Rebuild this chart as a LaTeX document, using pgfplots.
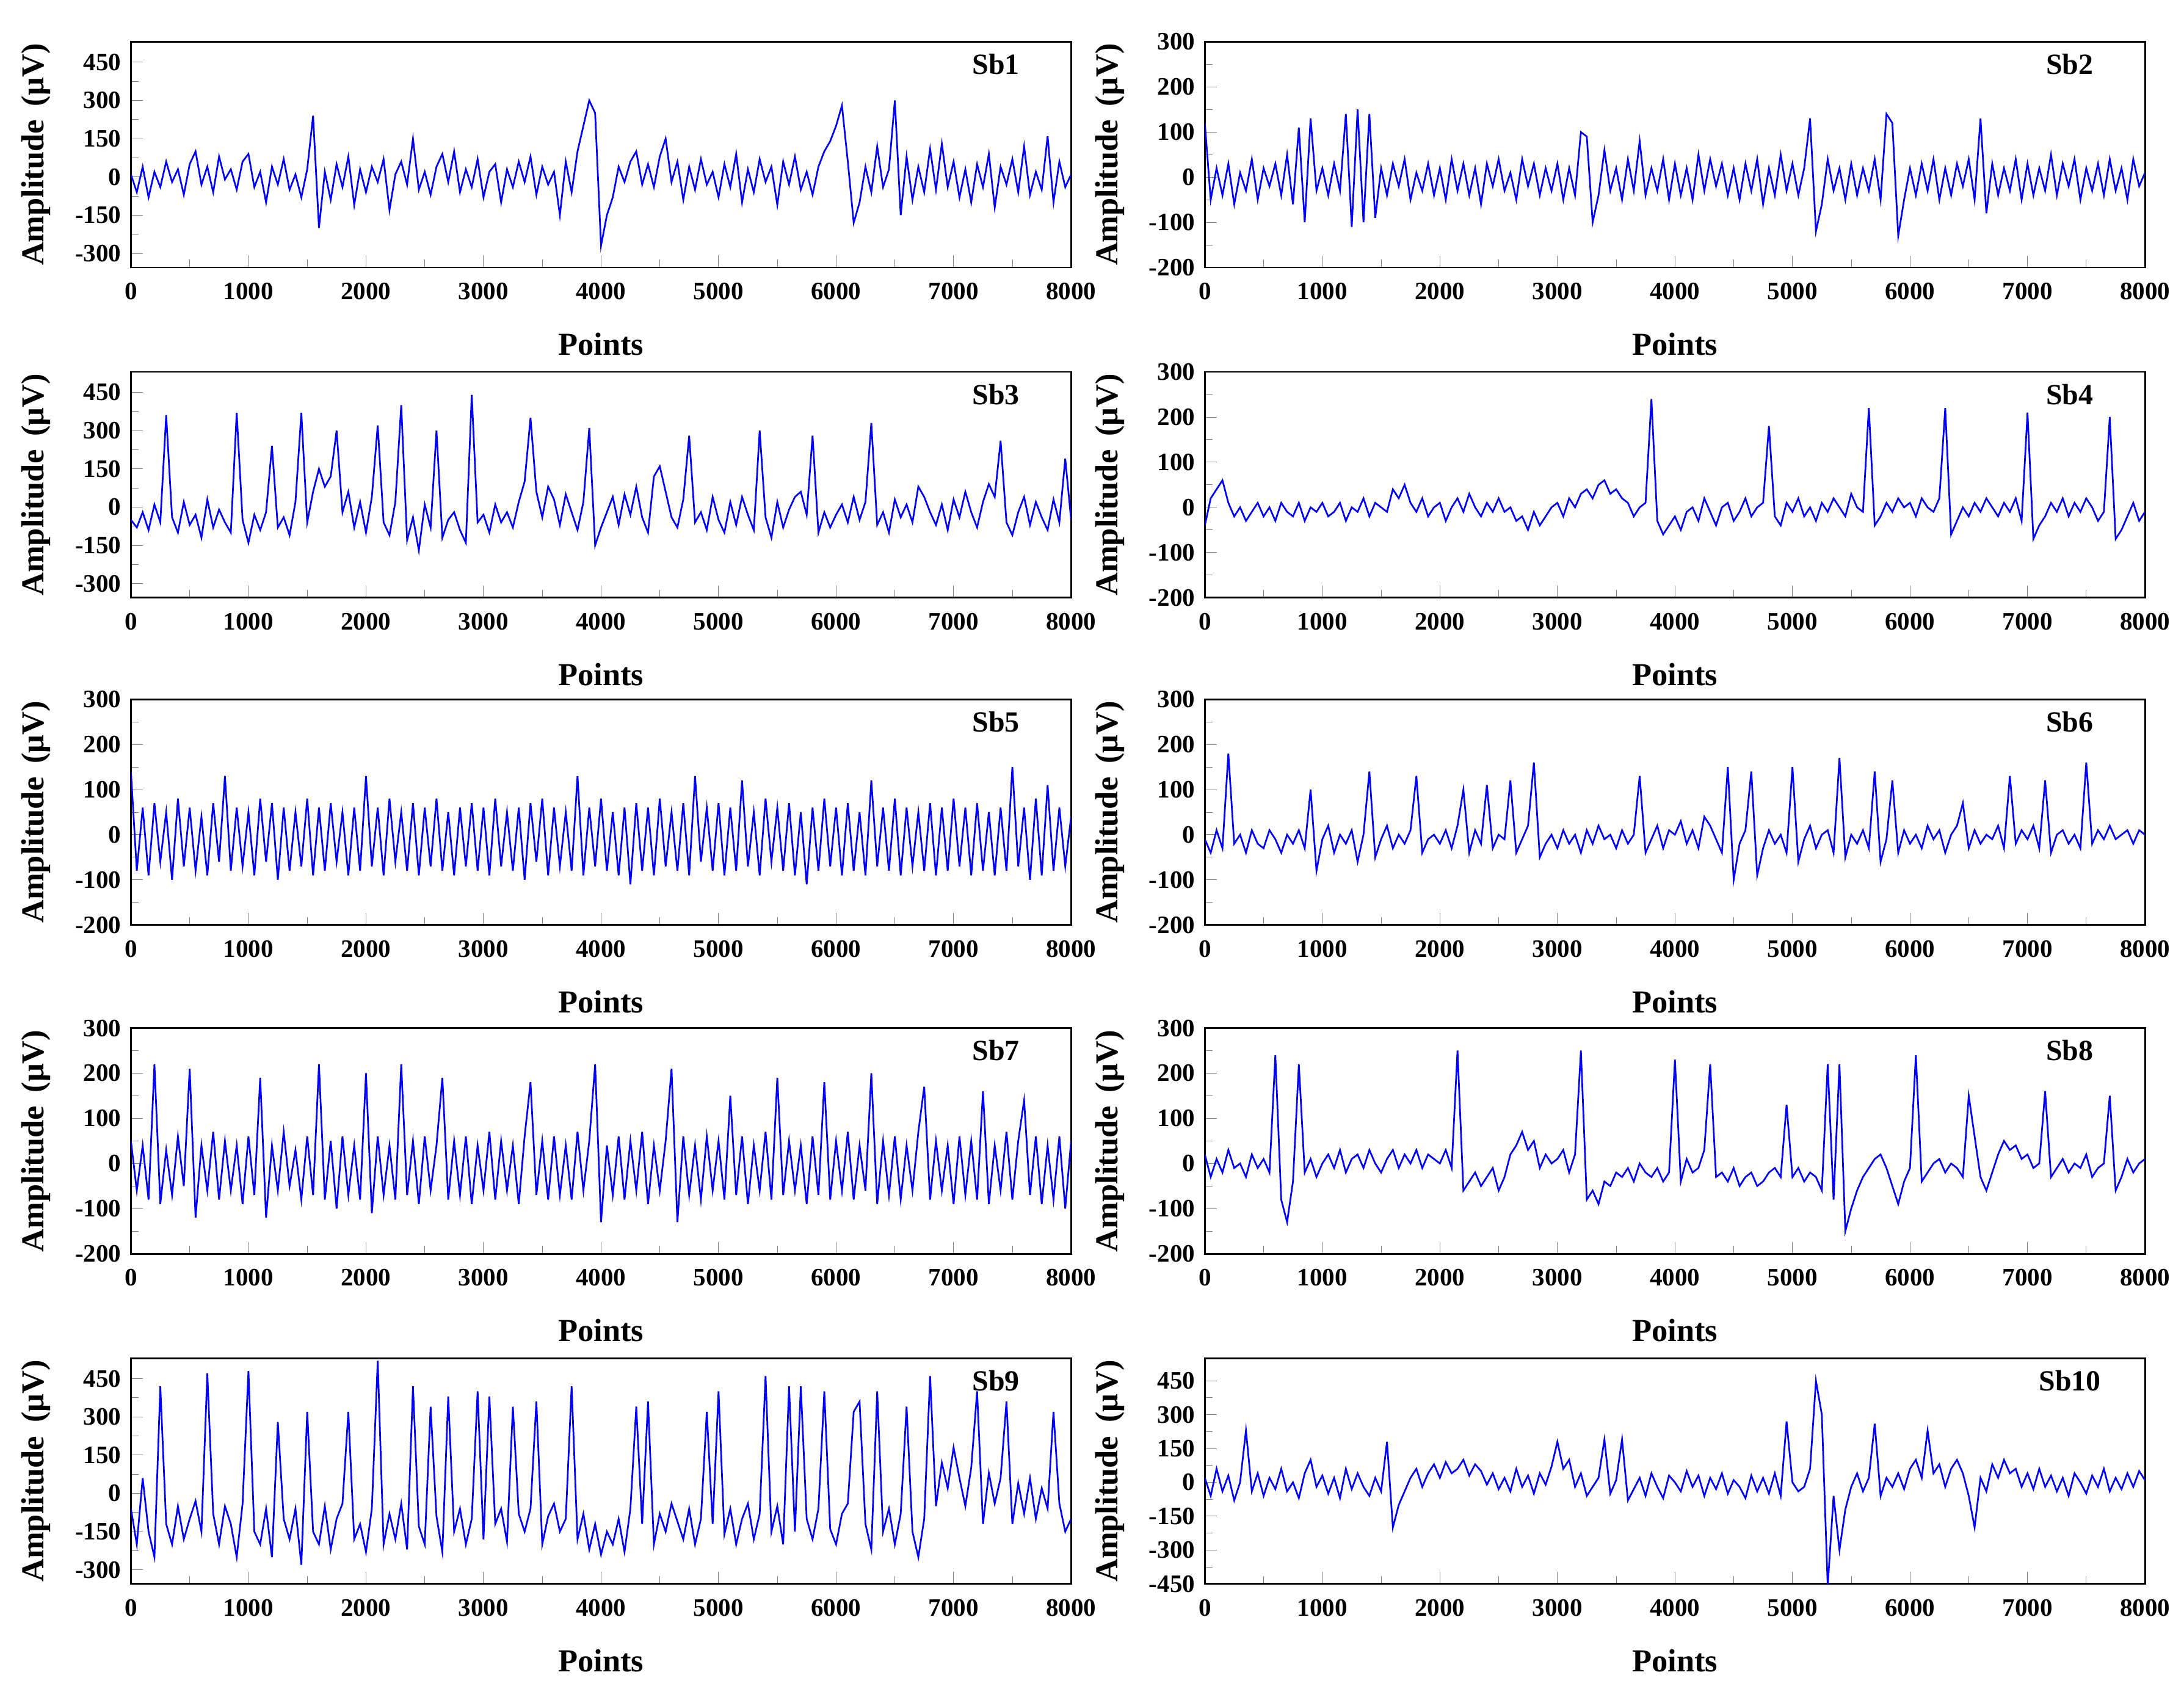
\documentclass[border=0pt]{standalone}
\usepackage{pgfplots}
\pgfplotsset{compat=1.18}
\usepackage{fontspec}
\setmainfont{Liberation Serif}
\pgfplotsset{eeg/.style={width=337.5pt,height=81pt,scale only axis,anchor=north west,
 xmin=0,xmax=8000,xtick={0,1000,...,8000},minor x tick num=1,no markers,
 tick align=inside,xtick pos=bottom,ytick pos=left,minor y tick num=1,
 /pgf/number format/assume math mode=true,
 ticklabel style={font=\fontsize{9}{10}\selectfont\bfseries},
 xticklabel style={yshift=-2pt,/pgf/number format/1000 sep={}},
 scaled ticks=false,
 label style={font=\fontsize{11.5}{12}\selectfont\bfseries},
 xlabel={Points},ylabel={Amplitude \,(μV)},
 ylabel style={yshift=2pt},xlabel style={yshift=-5pt},
 axis line style={line width=0.6pt},
 every axis plot/.append style={blue,line width=0.6pt}},
 yA/.style={ymin=-355,ymax=530,ytick={-300,-150,...,450}},
 yB/.style={ymin=-200,ymax=300,ytick={-200,-100,...,300}},
 yC/.style={ymin=-450,ymax=550,ytick={-450,-300,...,450}}}
\newcommand{\sbtitle}[1]{\node[font=\fontsize{10.5}{11}\selectfont\bfseries] at (rel axis cs:0.92,0.9) {#1};}
\begin{document}
\begin{tikzpicture}
\useasboundingbox (0,0) rectangle (784pt,-609pt);
\begin{axis}[eeg,yA,at={(47pt,-15pt)}]
\addplot table[x expr=\coordindex*50,y index=0,header=false] {
10
-60
40
-80
20
-40
60
-20
30
-70
50
100
-30
40
-60
80
-10
30
-50
60
90
-40
20
-100
40
-30
70
-50
10
-80
30
240
-200
20
-90
50
-40
80
-110
30
-60
40
-20
70
-130
10
60
-30
150
-50
20
-70
40
90
-20
100
-60
30
-40
70
-80
20
50
-100
30
-40
60
-20
80
-70
40
-30
20
-150
60
-60
100
200
300
250
-270
-150
-80
40
-20
60
100
-30
50
-40
80
150
-20
60
-90
40
-50
70
-30
20
-80
50
-40
90
-100
30
-60
70
-20
40
-110
60
-30
80
-50
20
-70
40
100
140
200
280
60
-180
-100
40
-60
120
-40
30
300
-150
80
-90
40
-60
110
-50
130
-40
60
-80
30
-100
50
-40
90
-120
40
-30
70
-60
120
-70
20
-50
160
-100
60
-40
10
};
\sbtitle{Sb1}
\end{axis}
\begin{axis}[eeg,yB,at={(432.5pt,-15pt)}]
\addplot table[x expr=\coordindex*50,y index=0,header=false] {
120
-50
20
-40
30
-60
10
-30
40
-50
20
-20
30
-40
50
-60
110
-100
130
-30
20
-40
30
-30
140
-110
150
-100
140
-90
20
-40
30
-20
40
-50
10
-30
30
-40
20
-50
40
-30
30
-40
20
-60
30
-20
40
-30
10
-50
40
-20
30
-40
20
-30
30
-50
20
-40
100
90
-100
-40
60
-30
20
-50
40
-30
80
-40
20
-30
40
-50
30
-40
20
-50
50
-30
40
-20
30
-40
20
-50
30
-30
40
-60
20
-40
50
-30
30
-40
20
130
-120
-60
40
-30
20
-50
30
-40
20
-30
40
-50
140
120
-130
-50
20
-40
30
-30
40
-50
20
-40
30
-20
40
-50
130
-80
30
-40
20
-30
40
-50
30
-40
20
-30
50
-40
30
-20
40
-50
20
-30
30
-40
40
-30
20
-50
40
-20
10
};
\sbtitle{Sb2}
\end{axis}
\begin{axis}[eeg,yA,at={(47pt,-133.5pt)}]
\addplot table[x expr=\coordindex*50,y index=0,header=false] {
-50
-80
-20
-90
10
-60
360
-40
-100
20
-70
-30
-120
30
-80
-10
-60
-100
370
-50
-140
-30
-90
-20
240
-80
-40
-110
20
370
-60
60
150
80
120
300
-20
60
-80
20
-100
40
320
-60
-110
20
400
-130
-40
-170
10
-80
300
-120
-50
-20
-90
-140
440
-60
-30
-100
10
-60
-20
-80
20
100
350
60
-40
80
30
-70
50
-20
-90
20
310
-150
-80
-20
40
-70
50
-30
80
-40
-100
120
160
60
-40
-80
30
280
-60
-20
-90
40
-50
-100
20
-70
40
-30
-90
300
-40
-120
20
-80
-10
40
60
-30
280
-100
-20
-80
-30
10
-60
40
-50
20
330
-70
-20
-100
30
-40
10
-60
80
40
-20
-70
10
-90
30
-40
60
-20
-80
20
90
40
260
-60
-110
-20
40
-70
20
-40
-90
30
-60
190
-50
};
\sbtitle{Sb3}
\end{axis}
\begin{axis}[eeg,yB,at={(432.5pt,-133.5pt)}]
\addplot table[x expr=\coordindex*50,y index=0,header=false] {
-40
20
40
60
10
-20
0
-30
-10
10
-20
0
-30
10
-10
-20
10
-30
0
-10
10
-20
-10
10
-30
0
-10
20
-20
10
0
-10
40
20
50
10
-10
20
-20
0
10
-30
0
20
-10
30
0
-20
10
-10
20
-10
0
-30
-20
-50
-10
-40
-20
0
10
-20
20
0
30
40
20
50
60
30
40
20
10
-20
0
10
240
-30
-60
-40
-20
-50
-10
0
-30
20
-10
-40
0
10
-30
-10
20
-20
0
10
180
-20
-40
10
-10
20
-20
0
-30
10
-10
20
0
-20
30
0
-10
220
-40
-20
10
-10
20
0
10
-20
20
0
-10
20
220
-60
-30
0
-20
10
-10
20
0
-20
10
-10
20
-30
210
-70
-40
-20
10
-10
20
-20
10
-10
20
0
-30
-10
200
-70
-50
-20
10
-30
-10
};
\sbtitle{Sb4}
\end{axis}
\begin{axis}[eeg,yB,at={(47pt,-251pt)}]
\addplot table[x expr=\coordindex*50,y index=0,header=false] {
140
-80
60
-90
70
-60
50
-100
80
-70
60
-80
40
-90
70
-60
130
-80
60
-70
50
-90
80
-60
70
-100
60
-80
50
-70
80
-90
60
-80
70
-60
50
-90
60
-80
130
-70
60
-90
80
-60
50
-80
70
-90
60
-70
80
-80
50
-90
60
-70
70
-80
60
-90
80
-70
50
-80
60
-100
70
-60
80
-90
60
-70
50
-80
130
-90
60
-70
80
-80
50
-90
60
-110
70
-80
60
-90
80
-70
50
-80
70
-90
130
-60
60
-80
70
-90
60
-80
120
-70
50
-90
80
-60
60
-80
70
-90
50
-110
60
-80
80
-70
60
-90
70
-80
50
-90
120
-70
60
-80
80
-90
60
-70
50
-80
70
-90
60
-80
80
-70
60
-90
70
-80
50
-90
60
-80
150
-70
60
-100
80
-90
110
-80
60
-70
40
};
\sbtitle{Sb5}
\end{axis}
\begin{axis}[eeg,yB,at={(432.5pt,-251pt)}]
\addplot table[x expr=\coordindex*50,y index=0,header=false] {
-10
-40
10
-30
180
-20
0
-40
10
-20
-30
10
-10
-40
0
-20
10
-30
100
-80
-10
20
-40
0
-20
10
-60
0
140
-50
-10
20
-30
0
-20
10
130
-40
-10
0
-20
10
-30
20
100
-40
10
-20
110
-30
0
-10
120
-40
-10
20
160
-50
-20
0
-30
10
-20
0
-40
10
-20
20
-10
0
-30
10
-20
0
130
-40
-10
20
-30
10
0
30
-20
10
-30
40
20
-10
-40
150
-100
-20
10
140
-90
-30
10
-20
0
-40
150
-60
-10
20
-30
0
10
-40
170
-50
0
-20
10
-30
140
-60
-10
120
-40
10
-20
0
-30
20
-10
10
-40
0
20
70
-30
10
-20
0
-10
20
-30
130
-20
10
-10
20
-30
120
-40
0
10
-20
0
-30
160
-20
10
-10
20
-10
0
10
-20
10
0
};
\sbtitle{Sb6}
\end{axis}
\begin{axis}[eeg,yB,at={(47pt,-369pt)}]
\addplot table[x expr=\coordindex*50,y index=0,header=false] {
50
-60
40
-80
220
-90
30
-70
60
-50
210
-120
40
-60
70
-80
50
-60
40
-90
60
-70
190
-120
40
-60
70
-50
30
-80
60
-70
220
-80
50
-100
60
-70
40
-80
200
-110
60
-70
40
-80
220
-70
50
-90
60
-60
40
190
-80
50
-70
60
-90
40
-60
70
-80
50
-60
40
-90
60
180
-70
50
-80
60
-70
40
-80
70
-60
50
220
-130
40
-70
60
-80
50
-60
70
-90
40
-60
50
210
-130
60
-70
40
-80
60
-60
50
-80
150
-70
60
-90
40
-60
70
-80
190
-70
50
-60
40
-90
60
-70
180
-80
50
-60
70
-80
40
-60
200
-90
50
-70
60
-80
40
-60
70
170
-80
50
-60
40
-90
60
-70
50
-80
160
-90
40
-60
70
-80
50
140
-70
60
-90
40
-80
60
-100
50
};
\sbtitle{Sb7}
\end{axis}
\begin{axis}[eeg,yB,at={(432.5pt,-369pt)}]
\addplot table[x expr=\coordindex*50,y index=0,header=false] {
20
-30
10
-20
30
-10
0
-30
20
-10
10
-20
240
-80
-130
-40
220
-20
10
-30
0
20
-10
30
-20
10
20
-10
30
0
-20
10
30
-10
20
0
30
-10
20
10
0
30
-10
250
-60
-40
-20
-50
-30
-10
-60
-30
20
40
70
30
50
-10
20
0
10
30
-20
20
250
-80
-60
-90
-40
-50
-20
-30
-10
-40
0
-20
-30
-10
-40
-20
230
-40
10
-20
-10
30
220
-30
-20
-40
-10
-50
-30
-20
-50
-40
-20
-10
-30
130
-30
-10
-40
-20
-30
-60
220
-80
220
-150
-100
-60
-30
-10
10
20
-10
-50
-90
-40
-10
240
-40
-20
0
10
-20
0
-10
-30
150
60
-30
-60
-20
20
50
30
40
10
20
-10
0
160
-30
-10
10
-20
0
-10
20
-30
-10
0
150
-60
-30
10
-20
0
10
};
\sbtitle{Sb8}
\end{axis}
\begin{axis}[eeg,yA,at={(47pt,-487.5pt)}]
\addplot table[x expr=\coordindex*50,y index=0,header=false] {
-60
-200
60
-150
-250
420
-120
-200
-50
-180
-100
-30
-150
470
-80
-200
-50
-120
-250
-40
480
-150
-200
-60
-250
280
-100
-180
-60
-280
320
-150
-200
-50
-220
-100
-40
320
-180
-120
-230
-60
520
-200
-80
-180
-40
-220
420
-130
-200
340
-90
-230
380
-150
-60
-200
-100
400
-180
380
-120
-60
-190
340
-80
-150
-60
360
-200
-90
-40
-150
-100
420
-180
-80
-220
-120
-240
-150
-200
-100
-230
-60
340
-120
360
-200
-80
-150
-40
-110
-180
-60
-200
-100
320
-120
400
-160
-60
-200
-100
-40
-180
-80
460
-150
-50
-200
420
-150
420
-100
-180
-60
400
-140
-200
-80
-40
320
360
-120
-220
400
-150
-60
-200
-80
340
-150
-250
-100
460
-50
120
20
180
60
-50
100
400
-120
80
-40
60
360
-120
40
-80
60
-100
20
-60
320
-40
-150
-100
};
\sbtitle{Sb9}
\end{axis}
\begin{axis}[eeg,yC,at={(432.5pt,-487.5pt)}]
\addplot table[x expr=\coordindex*50,y index=0,header=false] {
20
-60
60
-40
30
-80
0
230
-40
40
-60
20
-30
60
-40
0
-70
40
100
-20
30
-50
20
-70
60
-30
40
-20
-60
20
-40
180
-200
-100
-40
20
60
-20
40
80
20
90
40
60
100
30
80
50
-10
40
-30
20
-40
60
-20
30
-50
40
-10
70
180
60
100
-20
40
-60
-20
20
190
-50
10
190
-80
-30
20
-60
40
-20
-70
30
0
-40
50
-20
30
-60
20
-30
40
-50
10
-20
-70
30
-40
20
-50
40
-60
270
0
-40
-20
60
450
300
-460
-60
-300
-120
-20
40
-40
20
260
-60
20
-20
40
-30
60
100
20
230
40
80
-20
60
100
40
-60
-200
20
-40
80
20
100
40
60
-20
40
-30
60
-20
30
-40
20
-60
40
0
-50
30
-20
60
-40
20
-30
40
-20
50
10
};
\sbtitle{Sb10}
\end{axis}
\end{tikzpicture}
\end{document}
